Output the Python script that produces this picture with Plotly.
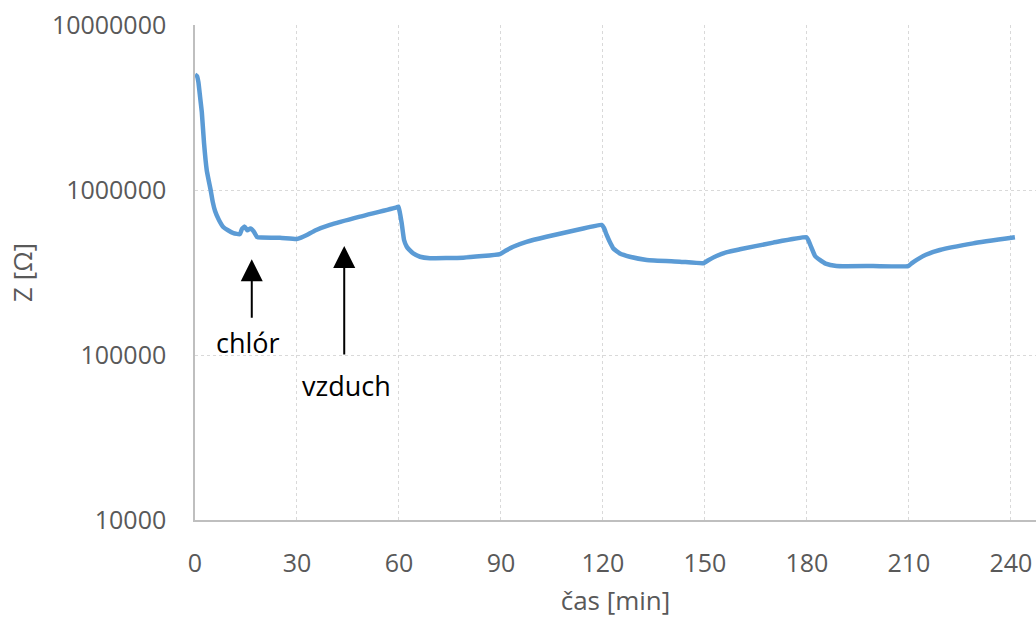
import plotly.graph_objects as go

# Impedance vs. time (chlorine / air exposure cycles)
time_min = [0, 0.6, 1.0, 1.5, 2.0, 2.65, 3.45, 4.0, 4.6, 5.2,
            5.9, 7.0, 8.3, 9.7, 11.3, 13.2, 13.8, 14.6, 15.4, 16.3,
            17.3, 18.2, 19.5, 25.0, 29.9, 31.2, 32.9, 35.5, 39.7, 48.5,
            59.3, 59.8, 60.1, 60.8, 61.5, 62.3, 63.0, 64.2, 66.2, 69.1,
            78.9, 89.7, 91.5, 93.6, 97.5, 103.4, 113.2, 119.6, 120.3, 121.1,
            122.0, 123.0, 125.0, 127.9, 132.9, 142.6, 149.5, 151.0, 153.4, 156.5,
            160.3, 170.1, 179.9, 180.4, 181.4, 182.4, 183.8, 185.5, 188.7, 199.5,
            209.8, 211.0, 212.3, 215.0, 219.1, 228.9, 241.2]
z_ohm = [5.0e6, 4.9e6, 4.5e6, 3.66e6, 2.97e6, 1.93e6, 1.32e6, 1.15e6, 1.0e6, 8.5e5,
         7.46e5, 6.6e5, 5.97e5, 5.7e5, 5.48e5, 5.4e5, 5.8e5, 6.0e5, 5.7e5, 5.85e5,
         5.6e5, 5.2e5, 5.15e5, 5.14e5, 5.05e5, 5.15e5, 5.34e5, 5.7e5, 6.14e5, 6.89e5,
         7.85e5, 7.93e5, 7.57e5, 6.29e5, 4.98e5, 4.53e5, 4.35e5, 4.13e5, 3.94e5, 3.86e5,
         3.89e5, 4.09e5, 4.3e5, 4.53e5, 4.85e5, 5.21e5, 5.78e5, 6.14e5, 5.89e5, 5.34e5,
         4.85e5, 4.44e5, 4.12e5, 3.94e5, 3.77e5, 3.68e5, 3.60e5, 3.75e5, 3.98e5, 4.2e5,
         4.37e5, 4.80e5, 5.17e5, 4.98e5, 4.44e5, 3.98e5, 3.77e5, 3.58e5, 3.46e5, 3.46e5,
         3.46e5, 3.62e5, 3.77e5, 4.05e5, 4.33e5, 4.75e5, 5.17e5]

x_ticks = [0, 30, 60, 90, 120, 150, 180, 210, 240]
y_ticks = [1e4, 1e5, 1e6, 1e7]
y_tick_text = ["10000", "100000", "1000000", "10000000"]

# Arrow annotations: label, arrow tip (time, log10 Z), label position
labels = ["chlór", "vzduch"]
tip_time = [16.7, 43.9]
tip_logz = [5.58, 5.661]
tail_offset_px = [60, 110]
label_time = [15.6, 44.6]
label_logz = [5.073, 4.818]

TICK_FONT = dict(family="Open Sans", size=25, color="#595959")
GRID = "#d9d9d9"
AXIS = "#bfbfbf"

fig = go.Figure()
fig.add_trace(go.Scatter(
    x=time_min, y=z_ohm, mode="lines",
    line=dict(color="#5B9BD5", width=4.5, shape="spline", smoothing=0.4),
    showlegend=False, hoverinfo="x+y",
))

for i, lab in enumerate(labels):
    fig.add_annotation(
        x=tip_time[i], y=tip_logz[i], xref="x", yref="y",
        text="", showarrow=True, ax=0, ay=tail_offset_px[i],
        arrowhead=2, arrowsize=2.2, arrowwidth=2, arrowcolor="#000000",
        standoff=0, startstandoff=0,
    )
    fig.add_annotation(
        x=label_time[i], y=label_logz[i], xref="x", yref="y",
        text=lab, showarrow=False,
        font=dict(family="Open Sans", size=27, color="#000000"),
    )

fig.update_xaxes(
    range=[0, 247.4], tickvals=x_ticks,
    showgrid=True, gridcolor=GRID, griddash="dot", gridwidth=1,
    showline=True, linecolor=AXIS, linewidth=1.5,
    zeroline=False, ticks="", tickfont=TICK_FONT, ticklabelstandoff=20,
    title=dict(text="čas [min]", font=dict(family="Open Sans", size=26, color="#595959"),
               standoff=16),
)
fig.update_yaxes(
    type="log", range=[4, 7], tickvals=y_ticks, ticktext=y_tick_text,
    showgrid=True, gridcolor=GRID, griddash="dot", gridwidth=1,
    showline=True, linecolor=AXIS, linewidth=1.5,
    zeroline=False, ticks="", tickfont=TICK_FONT, ticklabelstandoff=22,
    title=dict(text="Z [Ω]", font=dict(family="Open Sans", size=26, color="#595959"),
               standoff=12),
)

fig.update_layout(
    width=1036, height=618,
    margin=dict(l=195, r=0, t=25, b=98),
    paper_bgcolor="white", plot_bgcolor="white",
)

fig.write_html("out.html")
